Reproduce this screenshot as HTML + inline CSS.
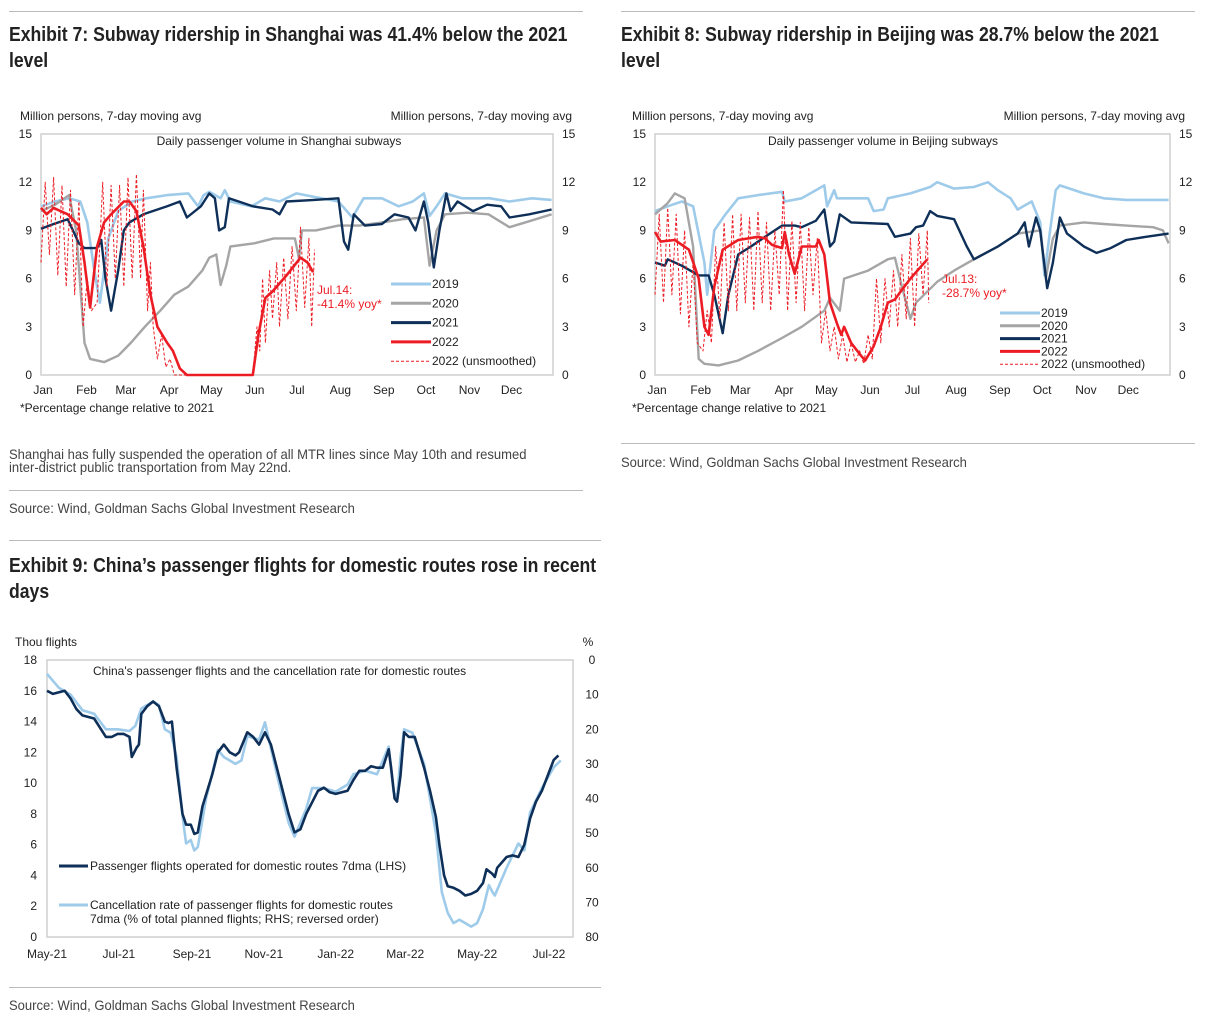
<!DOCTYPE html>
<html><head><meta charset="utf-8">
<style>
body{margin:0;background:#fff;width:1205px;height:1022px;position:relative;overflow:hidden;font-family:"Liberation Sans",sans-serif;}
.t{position:absolute;white-space:nowrap;transform-origin:0 0;}
.title{font-family:"Liberation Sans Narrow","Liberation Sans",sans-serif;font-weight:bold;font-size:20px;line-height:26px;color:#222;transform:scaleX(0.88);}
.note{font-family:"Liberation Sans Narrow","Liberation Sans",sans-serif;font-size:14px;line-height:13px;color:#444;transform:scaleX(0.93);}
.rule{position:absolute;height:1px;background:#bbb;}
svg{position:absolute;left:0;top:0;}
</style></head><body>
<div class="rule" style="left:9px;top:11px;width:574px"></div>
<div class="rule" style="left:621px;top:11px;width:574px"></div>
<div class="t title" style="left:9px;top:22px">Exhibit 7: Subway ridership in Shanghai was 41.4% below the 2021<br>level</div>
<div class="t title" style="left:621px;top:22px">Exhibit 8: Subway ridership in Beijing was 28.7% below the 2021<br>level</div>
<div class="t note" style="left:9px;top:448px">Shanghai has fully suspended the operation of all MTR lines since May 10th and resumed<br>inter-district public transportation from May 22nd.</div>
<div class="rule" style="left:9px;top:490px;width:574px"></div>
<div class="t note" style="left:9px;top:502px">Source: Wind, Goldman Sachs Global Investment Research</div>
<div class="rule" style="left:621px;top:443px;width:574px"></div>
<div class="t note" style="left:621px;top:456px">Source: Wind, Goldman Sachs Global Investment Research</div>
<div class="rule" style="left:9px;top:540px;width:592px"></div>
<div class="t title" style="left:9px;top:553px">Exhibit 9: China’s passenger flights for domestic routes rose in recent<br>days</div>
<div class="rule" style="left:9px;top:987px;width:592px"></div>
<div class="t note" style="left:9px;top:999px">Source: Wind, Goldman Sachs Global Investment Research</div>

<svg id="svg" width="1205" height="1022"></svg>

<script>
// ---------- Shanghai data ----------
const shD19=[0,10,20,28,33,38,42,48,55,65,75,90,105,112,116,120,128,131,135,150,160,170,182,200,212,222,230,243,255,265,273,277,282,288,300,320,334,350,364];
const shV19=[10.5,10.8,11,10.8,9.5,6.5,4.5,8.5,10.2,10.8,11,11.2,11.3,10.5,11.2,11.4,11,11.5,10.8,10.5,11,10.8,11.3,11,10.8,9.8,11,11,10.5,10.8,11.3,9.9,10.5,11.3,11,11,10.8,11,10.9];
const shD20=[0,10,20,25,31,35,45,55,64,74,85,95,105,115,120,125,128,132,135,152,166,181,184,186,196,212,227,243,258,273,277,282,288,304,319,334,349,364];
const shV20=[10.2,10.6,11.2,9,2,1,0.8,1.2,2,3,4,5,5.5,6.5,7.3,7.5,5.6,6.8,8,8.2,8.5,8.5,7.2,9,9,9.3,9.3,9.5,9.7,9.8,6.8,9,10,10.1,10,9.2,9.6,10];
const shD21=[0,9,19,27,31,40,43,46,50,55,59,63,73,90,99,104,114,120,124,127,131,134,151,165,170,175,195,212,216,219,223,231,243,252,262,267,273,276,280,284,289,292,297,308,318,328,334,348,364];
const shV21=[9.1,9.4,9.7,8.2,7.9,7.9,8.4,6,4,6.5,9,9.5,10,10.5,10.8,9.8,10.5,11.3,11,9,9.2,11,10.5,10.3,10,10.8,10.9,11,8.3,7.8,10,9.3,9.4,10,9.8,9,10.8,9.5,6.7,9,11.3,10.2,10.8,10.2,10.6,10.5,9.8,10,10.3];
const shD22=[0,4,9,19,27,31,35,40,45,50,59,63,68,73,78,83,90,94,99,104,151,155,160,165,175,185,190,194];
const shV22=[10.4,10,10.4,10,9.3,7,4.2,8,9.5,10,10.8,10.8,10.2,8,5,3,2,1.5,0.4,0,0,2.5,4.8,5.2,6.2,7.3,7,6.4];
const shDU=[0,3,6,9,12,15,18,21,24,27,30,33,36,40,44,47,50,53,56,59,62,65,68,71,73,76,78,80,83,86,89,92,95,104,151,154,156,158,160,163,165,168,170,173,176,179,182,185,188,191,193,195];
const shVU=[7,12,7.5,12.3,6.2,11.8,5.5,11.5,5,10.8,3,6,4,4.5,12,5.5,11.8,6,11.8,5.5,12.3,6,12.5,6,11.5,4,7,3,1,2.5,0.5,1,0,0,0,3,1.5,6,2,6.5,3.5,7,3,7.3,3.5,8,4,9.2,4.2,8.5,3,7.8];
// ---------- Beijing data ----------
const bjD19=[0,9,19,27,35,37,42,50,59,73,90,92,104,114,120,122,127,129,151,155,162,165,181,195,200,212,226,236,243,252,257,267,273,276,280,284,287,304,318,334,364];
const bjV19=[10.2,10.5,10.8,10.5,7,5,9,10,11,11.2,11.4,10.8,11,11.5,11.8,10.5,11.5,11,11,10.2,10.3,11,11.3,11.7,12,11.6,11.7,12,11.5,11,10.3,10.8,9.5,6.2,9,11.5,11.8,11.3,11,10.9,10.9];
const bjD20=[0,9,14,21,27,31,35,45,59,73,90,104,120,124,131,134,151,165,170,175,181,185,200,212,226,243,257,273,277,282,287,304,318,334,353,360,364];
const bjV20=[10,10.7,11.3,11,8,1,0.7,0.6,0.9,1.5,2.3,3,4,4.8,4,6,6.5,7.2,7.3,5.5,3.5,4.5,5.8,6.5,7.2,8,8.8,9,6,8.5,9.3,9.5,9.4,9.3,9.2,9,8.2];
const bjD21=[0,7,9,19,31,38,42,48,52,59,68,78,90,99,104,114,120,124,127,131,139,165,170,181,185,190,195,200,212,221,226,243,257,262,265,270,273,278,282,287,292,304,313,323,334,348,364];
const bjV21=[7,6.8,7.2,6.8,6.2,6.2,5,2.6,5,7.5,8,8.6,9.3,9.3,9.2,9.6,10.3,8,8.3,10,9.5,9.4,8.6,8.8,9.2,9.3,10.2,9.9,9.7,8,7.2,8,8.8,9.5,8,9.8,9,5.4,7,9.8,8.8,8,7.6,7.9,8.4,8.6,8.8];
const bjD22=[0,4,14,24,31,35,38,42,48,59,73,78,83,90,92,95,99,104,114,116,120,124,129,132,134,139,146,149,155,160,165,170,175,181,193];
const bjV22=[8.9,8.3,8.4,7.8,6,3,2.5,5.5,7.8,8.4,8.6,8.5,8.1,7.9,8.9,7.5,6.3,8,8,8.4,7.5,4.5,3.2,2.5,3,2,1.2,0.9,1.8,3,4.5,4.7,5.3,6,7.2];
const bjDU=[0,3,6,9,12,15,18,21,24,27,30,34,37,40,43,46,49,52,55,58,61,64,67,70,73,76,79,82,85,88,91,94,97,100,103,106,109,112,115,118,121,124,127,130,133,136,139,142,145,148,151,154,157,160,163,166,169,172,175,178,181,184,187,190,193,194];
const bjVU=[5,10,4.5,10.4,5,10,3.8,9,3,7,2,1.5,4,2,8,3.5,9.5,4,10,4,10,4.5,9.8,4,10.2,4.5,9.5,4,9,5,11.5,4,9.6,4.5,9.5,4,9.2,5,8.5,2,4,1.5,3,1,2.5,0.8,2,0.8,1.5,0.7,2.5,1,6,2,6,3,6.5,3,7.5,3.5,8.5,3,8.8,5,9,4.5];
// ---------- Flights data (days since 1 May 2021) ----------
const flD=[0,5,15,20,25,30,40,45,50,55,60,65,70,72,76,78,80,85,90,95,100,103,106,110,115,118,122,125,128,132,140,145,150,155,160,163,170,175,180,185,190,195,200,205,210,215,220,230,235,240,245,255,260,265,270,275,280,285,290,292,295,297,300,303,307,312,320,325,330,333,337,340,345,350,355,360,365,370,373,378,380,382,390,395,400,405,410,415,420,425,430,434];
const flV=[16,15.8,16,15.5,14.8,14.4,14.2,13.6,13,13,13.2,13.2,13,11.7,12.3,12.5,14.5,15,15.3,15,14,13.9,14,11,8,7.3,7.3,6.7,6.8,8.5,10.5,12,12.5,12,11.8,12,13.3,13,12.5,13.3,12.5,11,9.5,8,6.8,7,8,9.5,9.7,9.4,9.3,9.5,10.2,10.8,10.8,11.1,11,11,12.2,11,9,8.8,10.5,13.3,13,13,11,9.5,7.8,6,4,3.3,3.2,3,2.7,2.8,3,3.5,4.4,4.1,3.9,4.5,5.2,5.3,5.2,6,7.7,8.8,9.5,10.5,11.5,11.8];
const cxD=[0,10,20,30,40,50,60,70,75,80,90,95,100,105,110,115,118,122,125,128,135,145,150,160,165,170,180,185,195,205,210,220,225,235,245,255,260,270,280,290,294,297,300,303,310,320,330,335,340,345,350,355,360,365,370,375,378,380,390,400,405,410,420,430,436];
const cxV=[4,8,10,14.5,15.5,20,20,20.5,19,14,12,13,20,21,28,45,53,52,55,54,40,26,28,30,29,22,23,18,33,47,51,43,37,37,38,36,33,32,33,25,38,40,28,20,21,30,50,67,73,76,75,76,77,76,72,65,67,68,60,53,55,44,37,31,29];

const monthDays=[0,31,59,90,120,151,181,212,243,273,304,334];
const monthNames=['Jan','Feb','Mar','Apr','May','Jun','Jul','Aug','Sep','Oct','Nov','Dec'];
const subTicks=[0,3,6,9,12,15];
const flLeftTicks=[0,2,4,6,8,10,12,14,16,18];
const flRightTicks=[0,10,20,30,40,50,60,70,80];
const flMonthDays=[0,61,123,184,245,304,365,426];
const flMonthNames=['May-21','Jul-21','Sep-21','Nov-21','Jan-22','Mar-22','May-22','Jul-22'];
const legendNames=['2019','2020','2021','2022','2022 (unsmoothed)'];

const NS='http://www.w3.org/2000/svg';
const svg=document.getElementById('svg');
function el(tag,attrs,parent){const e=document.createElementNS(NS,tag);for(const k in attrs)e.setAttribute(k,attrs[k]);(parent||svg).appendChild(e);return e;}
function txt(x,y,s,anchor,size,fill,parent){const t=el('text',{x:x,y:y,'text-anchor':anchor||'start','font-size':size||12,fill:fill||'#222','font-family':'Liberation Sans, sans-serif'},parent);t.textContent=s;return t;}
function path(xs,ys,sx,sy,style,parent){let d='';for(let i=0;i<xs.length;i++)d+=(i?'L':'M')+sx(xs[i]).toFixed(1)+','+sy(ys[i]).toFixed(1);return el('path',Object.assign({d:d,fill:'none','stroke-linejoin':'round'},style),parent);}

const C19='#9fcbea',C20='#a5a5a5',C21='#0e2f58',C22='#ec1c24';

function subwayChart(o){
  const g=el('g',{});
  
  
  const sx=d=>o.L+d/365*(o.R-o.L), sy=v=>o.B-v/15*(o.B-o.T);
  el('rect',{x:o.L,y:o.T,width:o.R-o.L,height:o.B-o.T,fill:'none',stroke:'#cfcfcf','stroke-width':1.5},g);
  subTicks.forEach(v=>{
    const a=txt(o.L-9,sy(v)+4,String(v),'end',12,'#222',g);
    
    
    const b=txt(o.R+9,sy(v)+4,String(v),'start',12,'#222',g);
    
    
  });
  monthDays.forEach((d,i)=>{
    const a=txt(sx(d)+2,o.B+19,monthNames[i],'middle',12,'#222',g);
    
    
  });
  const u1=txt(o.ulx,o.T-14,'Million persons, 7-day moving avg','start',12,'#222',g);
  
  const u2=txt(o.urx,o.T-14,'Million persons, 7-day moving avg','end',12,'#222',g);
  
  const st=txt(o.subx,o.T+11,o.sub,'middle',12,'#222',g);
  
  const fn=txt(o.ulx,o.B+37,'*Percentage change relative to 2021','start',12,'#222',g);
  
  let p;
  p=path(o.d19,o.v19,sx,sy,{stroke:C19,'stroke-width':2.6},g);
  p=path(o.d20,o.v20,sx,sy,{stroke:C20,'stroke-width':2.4},g);
  p=path(o.d21,o.v21,sx,sy,{stroke:C21,'stroke-width':2.4},g);
  p=path(o.dU,o.vU,sx,sy,{stroke:C22,'stroke-width':1,'stroke-dasharray':'3,2'},g);
  p=path(o.d22,o.v22,sx,sy,{stroke:C22,'stroke-width':2.6},g);
  const a1=txt(o.annx,o.anny,o.ann1,'start',12,C22,g);
  const a2=txt(o.annx,o.anny+14,o.ann2,'start',12,C22,g);
  const styles=[{stroke:C19,'stroke-width':3},{stroke:C20,'stroke-width':3},{stroke:C21,'stroke-width':3},{stroke:C22,'stroke-width':3},{stroke:C22,'stroke-width':1,'stroke-dasharray':'3,2'}];
  legendNames.forEach((n,i)=>{
    const y=o.legY+i*o.legGap;
    const ln=el('line',Object.assign({x1:o.legX,x2:o.legX+40,y1:y,y2:y},styles[i]),g);
    
    const t=txt(o.legX+41,y+4,n,'start',12,'#222',g);
    
  });
}
subwayChart({name:'shanghai-chart',L:41,R:553,T:134,B:375,ulx:20,urx:572,subx:279,sub:'Daily passenger volume in Shanghai subways',
  d19:shD19,v19:shV19,d20:shD20,v20:shV20,d21:shD21,v21:shV21,d22:shD22,v22:shV22,dU:shDU,vU:shVU,
  annx:317,anny:294,ann1:'Jul.14:',ann2:'-41.4% yoy*',legX:391,legY:284,legGap:19.3});
subwayChart({name:'beijing-chart',L:655,R:1170,T:134,B:375,ulx:632,urx:1185,subx:883,sub:'Daily passenger volume in Beijing subways',
  d19:bjD19,v19:bjV19,d20:bjD20,v20:bjV20,d21:bjD21,v21:bjV21,d22:bjD22,v22:bjV22,dU:bjDU,vU:bjVU,
  annx:942,anny:283,ann1:'Jul.13:',ann2:'-28.7% yoy*',legX:1000,legY:313,legGap:12.8});

// ---------- Flights chart ----------
(function(){
  const L=47,R=573,T=660,B=937;
  const g=el('g',{});
  
  
  const sx=d=>L+d*(549-47)/426, syL=v=>B-v/18*(B-T), syR=v=>T+v/80*(B-T);
  el('rect',{x:L,y:T,width:R-L,height:B-T,fill:'none',stroke:'#cfcfcf','stroke-width':1.5},g);
  flLeftTicks.forEach(v=>{const t=txt(37,syL(v)+4,String(v),'end',12,'#222',g);});
  flRightTicks.forEach(v=>{const t=txt(592,syR(v)+4,String(v),'middle',12,'#222',g);});
  flMonthDays.forEach((d,i)=>{const t=txt(sx(d),B+21,flMonthNames[i],'middle',12,'#222',g);});
  let t=txt(15,646,'Thou flights','start',12,'#222',g);
  t=txt(588,646,'%','middle',12,'#222',g);
  t=txt(93,675,"China's passenger flights and the cancellation rate for domestic routes",'start',12,'#222',g);
  let p=path(cxD,cxV,sx,syR,{stroke:C19,'stroke-width':2.6},g);
  p=path(flD,flV,sx,syL,{stroke:C21,'stroke-width':2.6},g);
  let ln=el('line',{x1:59,x2:88,y1:866,y2:866,stroke:C21,'stroke-width':3},g);
  t=txt(90,870,'Passenger flights operated for domestic routes 7dma (LHS)','start',12,'#222',g);
  ln=el('line',{x1:59,x2:88,y1:905,y2:905,stroke:C19,'stroke-width':3},g);
  t=txt(90,909,'Cancellation rate of passenger flights for domestic routes','start',12,'#222',g);
  t=txt(90,923,'7dma (% of total planned flights; RHS; reversed order)','start',12,'#222',g);
})();
</script>
</body></html>
